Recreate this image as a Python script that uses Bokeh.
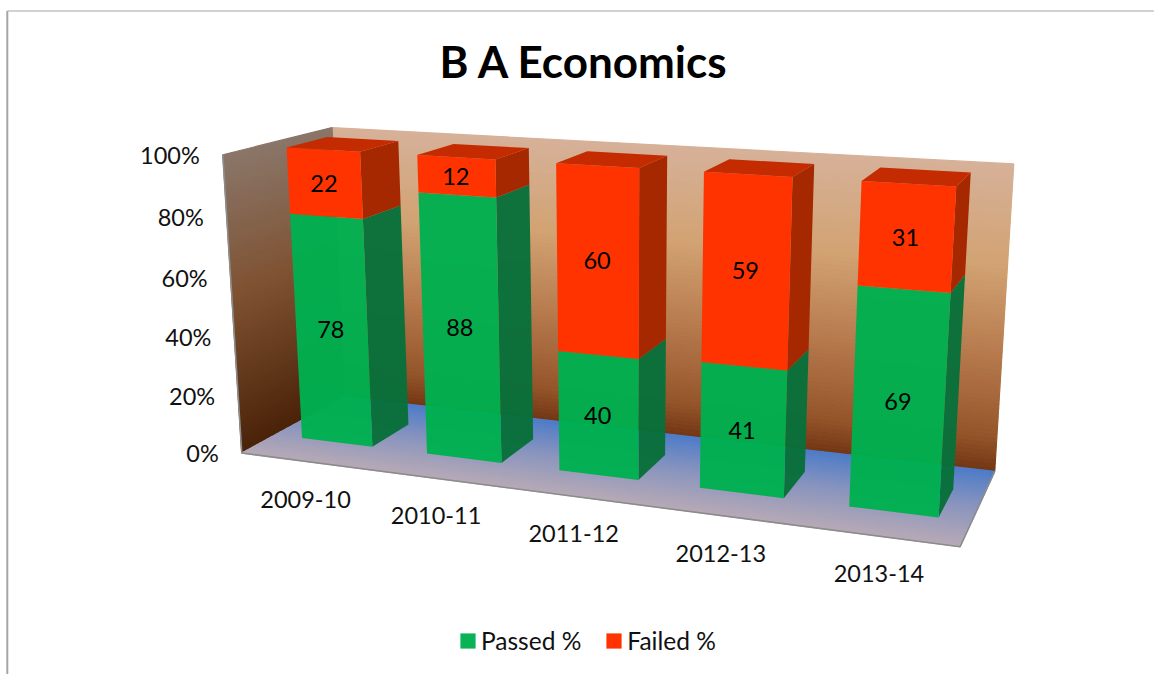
import numpy as np
from bokeh.plotting import figure
from bokeh.embed import file_html
from bokeh.resources import INLINE
from bokeh.models import Range1d, Legend, LegendItem
from bokeh.core.properties import value

# ---- data ----
categories = ["2009-10", "2010-11", "2011-12", "2012-13", "2013-14"]
passed = [78, 88, 40, 41, 69]
failed = [22, 12, 60, 59, 31]
ticks = [0, 20, 40, 60, 80, 100]
tick_labels = ["0%", "20%", "40%", "60%", "80%", "100%"]
title = "B A Economics"
series_names = ["Passed %", "Failed %"]

# ---- 3D camera: world (category, value, depth) -> page pixels ----
CAMERA = np.array([
    [0.113016, -0.0286837, 0.0524465, 0.301545],
    [0.00294677, -0.297302, -0.00429101, 0.437448],
    [-0.0280116, -0.0460748, 0.0416878, 1.0],
])
BAR_W = 0.57                      # bar width in category units
U0, U1 = -0.22, 4.775             # chart box extent, category axis
W0, W1 = -0.8, 1.82               # chart box extent, depth axis
FONT = value("Lato")


def proj(u, v, w):
    h = CAMERA @ np.array([u, v / 100.0, w, 1.0])
    return h[0] / h[2] * 1000, h[1] / h[2] * 1000


def hexrgb(s):
    return np.array([int(s[i:i + 2], 16) for i in (1, 3, 5)], float)


def ramp(t, stops):
    pos = [a for a, _ in stops]
    cols = np.array([hexrgb(c) for _, c in stops])
    rgb = [np.interp(t, pos, cols[:, k]) for k in range(3)]
    return "#%02x%02x%02x" % tuple(int(round(c)) for c in rgb)


BACK_STOPS = [(0, "#713613"), (12, "#95552A"), (40, "#B77B4E"), (68, "#D2A272"), (100, "#D6B199")]
LEFT_STOPS = [(0, "#4A2208"), (55, "#7F5232"), (100, "#8A7669")]
FLOOR_STOPS = [(0, "#B8AAB6"), (0.5, "#8A95BE"), (1, "#4E7CC8")]

p = figure(width=1154, height=674, x_range=Range1d(0, 1154), y_range=Range1d(674, 0),
           toolbar_location=None, output_backend="svg", x_axis_type=None, y_axis_type=None,
           min_border=0, outline_line_color=None)
p.grid.visible = False


def quad(pts, color, alpha=1.0, seam=0.0):
    return p.patch([c[0] for c in pts], [c[1] for c in pts], fill_color=color, fill_alpha=alpha,
                   line_color=color if seam else None, line_width=seam or 1)


# chart-area border
p.segment([6.8, 6.8], [10.5, 10.5], [6.8, 1154], [674, 10.5], line_color="#A6A6A6",
          line_width=[2, 1.2])

# walls and floor drawn as thin gradient strips
N = 70
for k in range(N):
    a, b = 100 * k / N, 100 * (k + 1) / N
    col = ramp((a + b) / 2, BACK_STOPS)
    quad([proj(U0, a, W1), proj(U1, a, W1), proj(U1, b, W1), proj(U0, b, W1)], col, seam=1.2)
for k in range(N):
    a, b = 100 * k / N, 100 * (k + 1) / N
    col = ramp((a + b) / 2, LEFT_STOPS)
    quad([proj(U0, a, W0), proj(U0, a, W1), proj(U0, b, W1), proj(U0, b, W0)], col, seam=1.2)
for k in range(N):
    a, b = k / N, (k + 1) / N
    col = ramp((a + b) / 2, FLOOR_STOPS)
    wa, wb = W0 + (W1 - W0) * a, W0 + (W1 - W0) * b
    quad([proj(U0, 0, wa), proj(U1, 0, wa), proj(U1, 0, wb), proj(U0, 0, wb)], col, seam=1.2)

edge = [proj(U0, 100, W0), proj(U0, 0, W0), proj(U1, 0, W0), proj(U1, 0, W1)]
p.line([c[0] for c in edge], [c[1] for c in edge], line_color="#8C8C8C", line_width=1.6)

# bars
GREEN, RED = "#00B050", "#FF3300"
GREEN_SIDE, RED_SIDE, RED_TOP = "#08703A", "#A52800", "#C42B00"
leg = {}
lab_x, lab_y, lab_t = [], [], []
for i, (a, b) in enumerate(zip(passed, failed)):
    top = a + b
    for v0, v1, front, side, alpha, val in ((0, a, GREEN, GREEN_SIDE, 0.97, a), (a, top, RED, RED_SIDE, 1.0, b)):
        corners = [proj(i, v0, 0), proj(i + BAR_W, v0, 0), proj(i + BAR_W, v1, 0), proj(i, v1, 0)]
        quad([proj(i + BAR_W, v0, 0), proj(i + BAR_W, v0, 1), proj(i + BAR_W, v1, 1), proj(i + BAR_W, v1, 0)], side, alpha)
        leg[front] = quad(corners, front, alpha)
        lab_x.append(np.mean([c[0] for c in corners]) - 1)
        lab_y.append(np.mean([c[1] for c in corners]) + 0.5)
        lab_t.append(str(val))
    quad([proj(i, top, 0), proj(i + BAR_W, top, 0), proj(i + BAR_W, top, 1), proj(i, top, 1)], RED_TOP)

p.text(lab_x, lab_y, text=lab_t, text_font=FONT, text_font_size="23.5px", text_color="#000000",
       text_align="center", text_baseline="middle")

# value-axis labels follow the left wall's front edge
tx = [proj(U0, t, W0)[0] - 23 for t in ticks]
ty = [proj(U0, t, W0)[1] for t in ticks]
p.text(tx, ty, text=tick_labels, text_font=FONT, text_font_size="23.5px", text_color="#111111",
       text_align="right", text_baseline="middle")

# category labels sit below the floor's front edge
LABEL_DX = [-14, -15, -17, -18.5, -19]
LABEL_DY = [36, 35, 35, 36, 35]
cx = [proj(i + 0.4, 0, W0)[0] + d for i, d in enumerate(LABEL_DX)]
cy = [proj(i + 0.4, 0, W0)[1] + d for i, d in enumerate(LABEL_DY)]
p.text(cx, cy, text=categories, text_font=FONT, text_font_size="23.5px", text_color="#111111",
       text_align="center", text_baseline="middle")

p.text([584], [60], text=[title], text_font=value("Lato"), text_font_style="bold",
       text_font_size="44px", text_color="#000000", text_align="center", text_baseline="middle")

legend = Legend(items=[LegendItem(label=series_names[0], renderers=[leg[GREEN]]),
                       LegendItem(label=series_names[1], renderers=[leg[RED]])],
                orientation="horizontal", location=(458, 19), background_fill_alpha=0,
                border_line_color=None, glyph_width=19, glyph_height=19, label_standoff=4,
                spacing=23, padding=6, margin=0, label_text_font="Lato",
                label_text_font_size="24.5px", label_text_color="#111111")
p.add_layout(legend, "center")

open("out.html", "w").write(file_html(p, INLINE))
